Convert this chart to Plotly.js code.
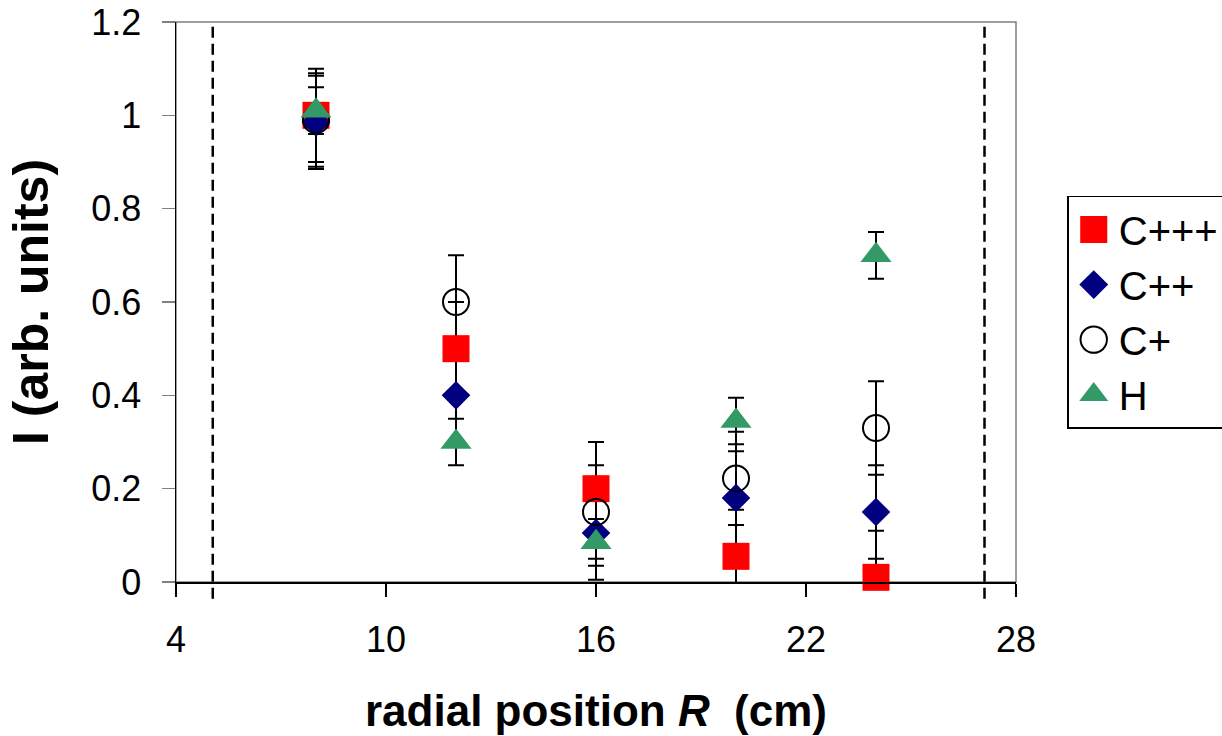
<!DOCTYPE html>
<html>
<head>
<meta charset="utf-8">
<script src="https://cdn.plot.ly/plotly-3.0.1.min.js"></script>
<style>
  html, body { margin: 0; padding: 0; background: #ffffff; }
  #chart { width: 1222px; height: 736px; }
</style>
</head>
<body>
<div id="chart"></div>
<script>
// ---- data ----
const radialPosition = [8, 12, 16, 20, 24];           // R (cm)
const seriesNames = ['C+++', 'C++', 'C+', 'H'];
const cTriple = [1.0, 0.5, 0.2, 0.055, 0.01];
const cTripleErr = [0.1, 0.1, 0.1, 0.1, 0.1];
const cDouble = [0.985, 0.4, 0.105, 0.18, 0.15];
const cDoubleErr = [0.1, 0.1, 0.1, 0.1, 0.1];
const cSingle = [0.99, 0.6, 0.15, 0.222, 0.33];
const cSingleErr = [0.1, 0.1, 0.1, 0.1, 0.1];
const hydrogen = [1.01, 0.3, 0.085, 0.345, 0.70];
const hydrogenErr = [0.05, 0.05, 0.05, 0.05, 0.05];
const wallPositions = [5.05, 27.1];                    // dashed vertical lines (cm)
const xTickVals = [4, 10, 16, 22, 28];
const yTickVals = [0, 0.2, 0.4, 0.6, 0.8, 1.0, 1.2];
const yTickText = ['0', '0.2', '0.4', '0.6', '0.8', '1', '1.2'];

const FONT = '"Liberation Sans", Arial, Helvetica, sans-serif';

const allValues = [cTriple, cDouble, cSingle, hydrogen];
const allErrs = [cTripleErr, cDoubleErr, cSingleErr, hydrogenErr];
const markerStyles = [
  {symbol: 'square', size: 27, color: '#FF0000', line: {width: 0}},
  {symbol: 'diamond', size: 22, color: '#000080', line: {width: 0}},
  {symbol: 'circle-open', size: 26, color: '#000000', line: {width: 2, color: '#000000'}},
  {symbol: 'triangle-up', size: 27, color: '#339966', line: {width: 0}}
];
const legendScale = [1.69, 1.39, 1.65, 1.57];

const traces = [];
// error bars first so that all markers sit on top of them
allValues.forEach((vals, i) => {
  traces.push({
    type: 'scatter', mode: 'markers',
    x: radialPosition, y: vals,
    error_y: {type: 'data', array: allErrs[i], visible: true,
              color: '#000000', thickness: 2, width: 8},
    marker: {size: 1, color: 'rgba(0,0,0,0)'},
    showlegend: false, hoverinfo: 'skip', cliponaxis: false
  });
});
allValues.forEach((vals, i) => {
  traces.push({
    type: 'scatter', mode: 'markers', name: seriesNames[i],
    x: radialPosition, y: vals,
    marker: markerStyles[i],
    cliponaxis: false
  });
});

const shapes = [
  {type: 'rect', xref: 'paper', yref: 'paper', x0: 0, x1: 1, y0: 0, y1: 1,
   line: {color: '#808080', width: 1.5}, layer: 'below'}
];
wallPositions.forEach(w => {
  shapes.push({type: 'line', xref: 'x', yref: 'paper', x0: w, x1: w, y0: -0.03, y1: 1,
               line: {color: '#000000', width: 2.5, dash: '11px,6px'}});
});

const layout = {
  width: 1222, height: 736,
  margin: {l: 176, r: 206, t: 22, b: 154, pad: 0, autoexpand: false},
  paper_bgcolor: '#ffffff', plot_bgcolor: '#ffffff',
  font: {family: FONT, color: '#000000', size: 36},
  showlegend: true,
  xaxis: {
    range: [4, 28], tickvals: xTickVals, ticktext: xTickVals.map(String),
    ticks: 'outside', ticklen: 13, tickwidth: 1.5, tickcolor: '#000000',
    showline: true, linecolor: '#000000', linewidth: 1.5,
    showgrid: false, zeroline: false,
    tickfont: {family: FONT, size: 36, color: '#000000'},
    ticklabelstandoff: 12,
    title: {text: '<b>radial position <i>R</i>  (cm)</b>', standoff: 36,
            font: {family: FONT, size: 44, color: '#000000'}}
  },
  yaxis: {
    range: [0, 1.2], tickvals: yTickVals, ticktext: yTickText,
    ticks: 'outside', ticklen: 13, tickwidth: 1.5, tickcolor: '#808080',
    showline: true, linecolor: '#000000', linewidth: 1.5,
    showgrid: false, zeroline: false,
    tickfont: {family: FONT, size: 36, color: '#000000'},
    ticklabelstandoff: 13,
    title: {text: '<b>I (arb. units)</b>', standoff: 27,
            font: {family: FONT, size: 50, color: '#000000'}}
  },
  legend: {
    x: 1.061, y: 0.69, xanchor: 'left', yanchor: 'top',
    bordercolor: '#000000', borderwidth: 1.5, bgcolor: '#ffffff',
    font: {family: FONT, size: 40, color: '#000000'},
    itemwidth: 40
  },
  shapes: shapes
};

Plotly.newPlot('chart', traces, layout, {displayModeBar: false, staticPlot: true}).then(() => {
  const items = document.querySelectorAll('.legend .traces');
  items.forEach((item, i) => {
    item.querySelectorAll('.legendpoints path.scatterpts').forEach(p => {
      const t = p.getAttribute('transform') || '';
      p.setAttribute('transform', t + ' scale(' + legendScale[i] + ')');
      p.style.vectorEffect = 'non-scaling-stroke';
    });
  });
});
</script>
</body>
</html>
